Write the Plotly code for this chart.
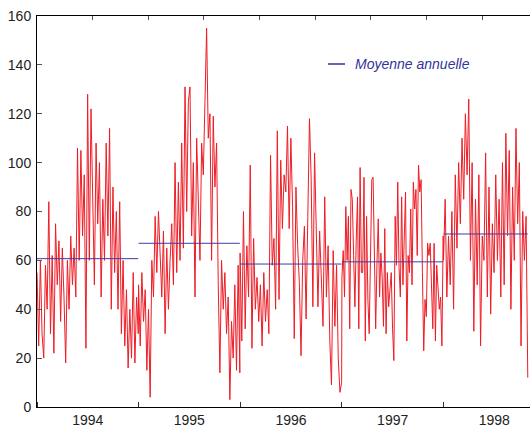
import pandas as pd
import plotly.graph_objects as go

# Values, one list per year, spread evenly across each year
v1994 = [55, 25, 60, 30, 20, 58, 40, 84, 30, 62, 22, 75, 50, 68, 35, 65, 45, 18,
         60, 40, 70, 50, 65, 45, 106, 60, 105, 70, 95, 24, 128, 60, 122, 90, 50, 108,
         75, 100, 45, 85, 60, 108, 70, 114, 40, 90, 55, 80, 40, 84, 30, 60, 25, 48,
         16, 40, 20, 55, 18, 45, 30]
v1995 = [50, 25, 55, 35, 48, 15, 40, 4, 60, 45, 78, 55, 80, 60, 45, 72, 30, 65,
         40, 60, 75, 50, 100, 55, 92, 60, 108, 65, 131, 80, 125, 131, 70, 100, 45, 110,
         85, 60, 108, 95, 125, 155, 110, 120, 60, 119, 90, 108, 50, 14, 60, 40, 55, 30,
         45, 3, 35, 20, 50, 15, 58, 14]
v1996 = [63, 27, 80, 32, 66, 45, 99, 24, 69, 40, 53, 35, 50, 25, 55, 35, 48, 30, 103, 58,
         69, 40, 113, 44, 101, 73, 95, 88, 115, 73, 110, 82, 28, 90, 66, 51, 21, 60, 74, 36,
         78, 118, 93, 41, 104, 70, 41, 72, 55, 33, 86, 45, 66, 27, 9, 64, 33, 58, 20, 6, 10]
v1997 = [53, 64, 45, 82, 60, 78, 32, 89, 85, 62, 41, 68, 86, 32, 98, 55, 55, 94, 27, 78,
         44, 30, 70, 93, 94, 53, 32, 59, 77, 45, 63, 53, 33, 73, 30, 55, 41, 48, 55, 32,
         19, 78, 58, 92, 57, 45, 86, 50, 70, 88, 27, 62, 55, 81, 50, 92, 81, 89, 62, 99,
         88, 93, 55, 23, 44, 37, 67, 62, 67, 50, 32, 67, 27, 58, 48, 40, 45, 25, 70]
v1998 = [60, 85, 45, 70, 50, 80, 40, 95, 65, 100, 75, 110, 85, 120, 95, 126, 60, 100,
         31, 85, 50, 95, 25, 70, 60, 104, 45, 90, 38, 75, 55, 95, 60, 85, 45, 100,
         50, 112, 70, 105, 40, 90, 60, 114, 75, 100, 25, 80, 60, 78, 12]

years = [1994, 1995, 1996, 1997, 1998]
year_ends = ["1994-12-31", "1995-12-31", "1996-12-31", "1997-12-31", "1998-10-31"]
series = [v1994, v1995, v1996, v1997, v1998]
annual_means = [60.7, 67.0, 58.5, 59.4, 70.8]

dates, values = [], []
for yr, end, vals in zip(years, year_ends, series):
    dates += list(pd.date_range(f"{yr}-01-01", end, periods=len(vals)))
    values += vals

fig = go.Figure()
fig.add_trace(go.Scatter(x=dates, y=values, mode="lines",
                         line=dict(color="#ee1c25", width=1), showlegend=False,
                         hoverinfo="skip"))

mx, my = [], []
for yr, end, m in zip(years, year_ends, annual_means):
    mx += [pd.Timestamp(f"{yr}-01-01"), pd.Timestamp(end), None]
    my += [m, m, None]
fig.add_trace(go.Scatter(x=mx, y=my, mode="lines",
                         line=dict(color="#3c3ca8", width=1), showlegend=False))

# dummy trace to activate top axis
fig.add_trace(go.Scatter(x=[dates[0]], y=[None], xaxis="x2", showlegend=False))

font = dict(family="Liberation Sans, Arial, sans-serif", size=14, color="#222222")
xr = ["1994-01-01", "1998-11-08"]
fig.update_layout(
    width=530, height=426,
    margin=dict(l=37, r=0, t=16, b=19, autoexpand=False),
    plot_bgcolor="white", paper_bgcolor="white",
    font=font,
    xaxis=dict(type="date", range=xr, dtick="M12", tick0="1994-01-01",
               ticklabelmode="period", tickformat="%Y", automargin=False,
               ticks="inside", ticklen=5, tickcolor="#333", showgrid=False,
               showline=True, linecolor="black", linewidth=1, zeroline=False,
               ticklabelstandoff=0),
    xaxis2=dict(type="date", range=xr, overlaying="x", side="top", automargin=False,
                dtick=200 * 86400000, tick0="1994-01-01",
                showticklabels=False, ticks="inside", ticklen=4, tickcolor="#555",
                showgrid=False, showline=True, linecolor="black", linewidth=1),
    yaxis=dict(range=[0, 160], dtick=20, ticks="inside", ticklen=5, tickcolor="#555",
               showgrid=False, showline=True, linecolor="black", linewidth=1,
               zeroline=False, ticklabelstandoff=2, automargin=False),
)

# legend
fig.add_shape(type="line", xref="paper", yref="paper",
              x0=(328 - 37) / 493, x1=(345 - 37) / 493,
              y0=(407 - 64) / 391, y1=(407 - 64) / 391,
              line=dict(color="#3333a0", width=1.5))
fig.add_annotation(xref="paper", yref="paper", x=(353 - 37) / 493, y=(407 - 64) / 391,
                   xanchor="left", yanchor="middle", showarrow=False,
                   text="<i>Moyenne annuelle</i>",
                   font=dict(family="Liberation Sans, Arial, sans-serif", size=14,
                             color="#333399"))

fig.write_html("out.html", config={"displayModeBar": False},
               post_script="document.body.style.margin='0';"
                           "document.body.style.overflow='hidden';")
